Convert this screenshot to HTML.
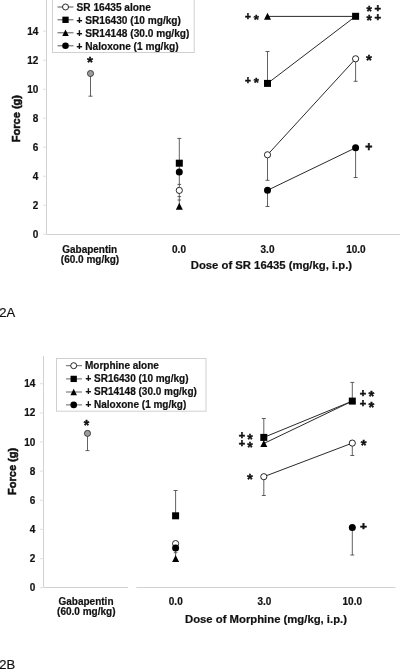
<!DOCTYPE html>
<html><head><meta charset="utf-8"><title>Figure 2</title>
<style>
html,body{margin:0;padding:0;background:#fff;}
svg{display:block;font-family:"Liberation Sans",sans-serif;fill:#111;}
</style></head><body>
<svg width="400" height="669" viewBox="0 0 400 669">
<rect width="400" height="669" fill="#fff"/>
<path d="M46.5 0V234.5H400" stroke="#d2d2d2" stroke-width="1" fill="none"/>
<path d="M43 234.2H46.5" stroke="#e0e0e0" stroke-width="1"/>
<text x="38.40" y="237.70" font-size="10" text-anchor="end" font-weight="bold" stroke="#111" stroke-width="0.2" >0</text>
<path d="M43 205.2H46.5" stroke="#e0e0e0" stroke-width="1"/>
<text x="38.40" y="208.70" font-size="10" text-anchor="end" font-weight="bold" stroke="#111" stroke-width="0.2" >2</text>
<path d="M43 176.2H46.5" stroke="#e0e0e0" stroke-width="1"/>
<text x="38.40" y="179.70" font-size="10" text-anchor="end" font-weight="bold" stroke="#111" stroke-width="0.2" >4</text>
<path d="M43 147.2H46.5" stroke="#e0e0e0" stroke-width="1"/>
<text x="38.40" y="150.70" font-size="10" text-anchor="end" font-weight="bold" stroke="#111" stroke-width="0.2" >6</text>
<path d="M43 118.2H46.5" stroke="#e0e0e0" stroke-width="1"/>
<text x="38.40" y="121.70" font-size="10" text-anchor="end" font-weight="bold" stroke="#111" stroke-width="0.2" >8</text>
<path d="M43 89.2H46.5" stroke="#e0e0e0" stroke-width="1"/>
<text x="38.40" y="92.70" font-size="10" text-anchor="end" font-weight="bold" stroke="#111" stroke-width="0.2" >10</text>
<path d="M43 60.2H46.5" stroke="#e0e0e0" stroke-width="1"/>
<text x="38.40" y="63.70" font-size="10" text-anchor="end" font-weight="bold" stroke="#111" stroke-width="0.2" >12</text>
<path d="M43 31.2H46.5" stroke="#e0e0e0" stroke-width="1"/>
<text x="38.40" y="34.70" font-size="10" text-anchor="end" font-weight="bold" stroke="#111" stroke-width="0.2" >14</text>
<text x="20.00" y="118.60" font-size="11" text-anchor="middle" font-weight="bold" stroke="#111" stroke-width="0.55" transform="rotate(-90 20 118.6)">Force (g)</text>
<rect x="52.5" y="-5" width="141.7" height="57.5" fill="#fff" stroke="#d0d0d0" stroke-width="1"/>
<line x1="57.5" y1="7" x2="73.5" y2="7" stroke="#444" stroke-width="0.9"/>
<circle cx="65.5" cy="7" r="3.0" fill="#fff" stroke="#111" stroke-width="0.9"/>
<text x="76.50" y="10.60" font-size="10.15" text-anchor="start" font-weight="bold" stroke="#111" stroke-width="0.2" >SR 16435 alone</text>
<line x1="57.5" y1="19.8" x2="73.5" y2="19.8" stroke="#444" stroke-width="0.9"/>
<rect x="62.35" y="16.65" width="6.3" height="6.3" fill="#000"/>
<text x="76.50" y="23.60" font-size="10.15" text-anchor="start" font-weight="bold" stroke="#111" stroke-width="0.2" >+ SR16430 (10 mg/kg)</text>
<line x1="57.5" y1="32.8" x2="73.5" y2="32.8" stroke="#444" stroke-width="0.9"/>
<polygon points="65.5,29.549999999999997 68.75,36.05 62.25,36.05" fill="#000"/>
<text x="76.50" y="36.60" font-size="10.15" text-anchor="start" font-weight="bold" stroke="#111" stroke-width="0.2" >+ SR14148 (30.0 mg/kg)</text>
<line x1="57.5" y1="45.8" x2="73.5" y2="45.8" stroke="#444" stroke-width="0.9"/>
<circle cx="65.5" cy="45.8" r="3.3" fill="#000"/>
<text x="76.50" y="49.60" font-size="10.15" text-anchor="start" font-weight="bold" stroke="#111" stroke-width="0.2" >+ Naloxone (1 mg/kg)</text>
<path d="M90.5 73.5V96.2M88.5 96.2H92.5" stroke="#3a3a3a" stroke-width="0.8" fill="none"/>
<circle cx="90.5" cy="73.5" r="3.05" fill="#9c9c9c" stroke="#333" stroke-width="0.9"/>
<text x="89.90" y="66.97" font-size="15.4" text-anchor="middle" font-weight="bold" stroke="#111" stroke-width="0.4" >*</text>
<path d="M179.3 163V138.4M177.3 138.4H181.3" stroke="#3a3a3a" stroke-width="0.8" fill="none"/>
<line x1="179.3" y1="163" x2="179.3" y2="205" stroke="#3a3a3a" stroke-width="0.8"/>
<path d="M177.5 184.4H181.10000000000002M177.5 196.6H181.10000000000002M177.5 200H181.10000000000002" stroke="#3a3a3a" stroke-width="0.8"/>
<rect x="175.80" y="159.70" width="7" height="7" fill="#000"/>
<circle cx="179.3" cy="172" r="3.5" fill="#000"/>
<circle cx="179.3" cy="190.4" r="3.1" fill="#fff" stroke="#111" stroke-width="0.9"/>
<polygon points="179.3,202.7 182.8,209.7 175.8,209.7" fill="#000"/>
<line x1="267.5" y1="16.4" x2="355.6" y2="16.4" stroke="#2a2a2a" stroke-width="1.0"/>
<line x1="267.5" y1="83.4" x2="355.6" y2="16.3" stroke="#2a2a2a" stroke-width="1.0"/>
<line x1="267.5" y1="154.8" x2="355.6" y2="58.8" stroke="#2a2a2a" stroke-width="1.0"/>
<line x1="267.5" y1="190.3" x2="355.6" y2="147.8" stroke="#2a2a2a" stroke-width="1.0"/>
<path d="M267.5 83V51.5M265.5 51.5H269.5" stroke="#3a3a3a" stroke-width="0.8" fill="none"/>
<path d="M267.5 155V180.3M265.5 180.3H269.5" stroke="#3a3a3a" stroke-width="0.8" fill="none"/>
<path d="M267.5 190V206.5M265.5 206.5H269.5" stroke="#3a3a3a" stroke-width="0.8" fill="none"/>
<path d="M355.6 59V81.3M353.6 81.3H357.6" stroke="#3a3a3a" stroke-width="0.8" fill="none"/>
<path d="M355.6 148V177.5M353.6 177.5H357.6" stroke="#3a3a3a" stroke-width="0.8" fill="none"/>
<polygon points="267.5,12.8 271.0,19.8 264.0,19.8" fill="#000"/>
<rect x="352.10" y="12.80" width="7" height="7" fill="#000"/>
<rect x="264.00" y="79.90" width="7" height="7" fill="#000"/>
<circle cx="267.5" cy="154.8" r="3.1" fill="#fff" stroke="#111" stroke-width="0.9"/>
<circle cx="355.6" cy="58.8" r="3.1" fill="#fff" stroke="#111" stroke-width="0.9"/>
<circle cx="267.5" cy="190.3" r="3.5" fill="#000"/>
<circle cx="355.6" cy="147.8" r="3.5" fill="#000"/>
<g transform="translate(248.00 20.05) scale(0.910 1)"><text x="0" y="0" font-size="10.9" text-anchor="middle" font-weight="bold" stroke="#111" stroke-width="0.55">+</text></g>
<text x="256.40" y="24.00" font-size="13.1" text-anchor="middle" font-weight="bold" stroke="#111" stroke-width="0.4" >*</text>
<g transform="translate(248.00 83.85) scale(0.910 1)"><text x="0" y="0" font-size="10.9" text-anchor="middle" font-weight="bold" stroke="#111" stroke-width="0.55">+</text></g>
<text x="256.40" y="87.20" font-size="13.1" text-anchor="middle" font-weight="bold" stroke="#111" stroke-width="0.4" >*</text>
<text x="369.10" y="16.39" font-size="13.8" text-anchor="middle" font-weight="bold" stroke="#111" stroke-width="0.4" >*</text>
<g transform="translate(377.80 12.25) scale(1.020 1)"><text x="0" y="0" font-size="10.9" text-anchor="middle" font-weight="bold" stroke="#111" stroke-width="0.55">+</text></g>
<text x="369.10" y="25.29" font-size="13.8" text-anchor="middle" font-weight="bold" stroke="#111" stroke-width="0.4" >*</text>
<g transform="translate(377.80 20.65) scale(1.020 1)"><text x="0" y="0" font-size="10.9" text-anchor="middle" font-weight="bold" stroke="#111" stroke-width="0.55">+</text></g>
<text x="369.00" y="64.74" font-size="15.1" text-anchor="middle" font-weight="bold" stroke="#111" stroke-width="0.4" >*</text>
<g transform="translate(368.75 150.87) scale(1.020 1)"><text x="0" y="0" font-size="11.9" text-anchor="middle" font-weight="bold" stroke="#111" stroke-width="0.55">+</text></g>
<text x="89.70" y="253.40" font-size="10" text-anchor="middle" font-weight="bold" stroke="#111" stroke-width="0.2" >Gabapentin</text>
<text x="90.00" y="262.70" font-size="10" text-anchor="middle" font-weight="bold" stroke="#111" stroke-width="0.2" >(60.0 mg/kg)</text>
<text x="179.00" y="253.40" font-size="10" text-anchor="middle" font-weight="bold" stroke="#111" stroke-width="0.2" >0.0</text>
<text x="267.50" y="253.40" font-size="10" text-anchor="middle" font-weight="bold" stroke="#111" stroke-width="0.2" >3.0</text>
<text x="355.90" y="253.40" font-size="10" text-anchor="middle" font-weight="bold" stroke="#111" stroke-width="0.2" >10.0</text>
<text x="271.40" y="268.50" font-size="11.3" text-anchor="middle" font-weight="bold" stroke="#111" stroke-width="0.2" >Dose of SR 16435 (mg/kg, i.p.)</text>
<text x="-0.80" y="316.50" font-size="13" text-anchor="start" font-weight="normal" stroke="#111" stroke-width="0.2" >2A</text>
<path d="M43.5 356V587.5H128M136.3 587.5H395.5" stroke="#d2d2d2" stroke-width="1" fill="none"/>
<path d="M40 587.7H43.5" stroke="#e0e0e0" stroke-width="1"/>
<text x="35.40" y="591.20" font-size="10" text-anchor="end" font-weight="bold" stroke="#111" stroke-width="0.2" >0</text>
<path d="M40 558.6H43.5" stroke="#e0e0e0" stroke-width="1"/>
<text x="35.40" y="562.06" font-size="10" text-anchor="end" font-weight="bold" stroke="#111" stroke-width="0.2" >2</text>
<path d="M40 529.4H43.5" stroke="#e0e0e0" stroke-width="1"/>
<text x="35.40" y="532.92" font-size="10" text-anchor="end" font-weight="bold" stroke="#111" stroke-width="0.2" >4</text>
<path d="M40 500.3H43.5" stroke="#e0e0e0" stroke-width="1"/>
<text x="35.40" y="503.78" font-size="10" text-anchor="end" font-weight="bold" stroke="#111" stroke-width="0.2" >6</text>
<path d="M40 471.1H43.5" stroke="#e0e0e0" stroke-width="1"/>
<text x="35.40" y="474.64" font-size="10" text-anchor="end" font-weight="bold" stroke="#111" stroke-width="0.2" >8</text>
<path d="M40 442.0H43.5" stroke="#e0e0e0" stroke-width="1"/>
<text x="35.40" y="445.50" font-size="10" text-anchor="end" font-weight="bold" stroke="#111" stroke-width="0.2" >10</text>
<path d="M40 412.9H43.5" stroke="#e0e0e0" stroke-width="1"/>
<text x="35.40" y="416.36" font-size="10" text-anchor="end" font-weight="bold" stroke="#111" stroke-width="0.2" >12</text>
<path d="M40 383.7H43.5" stroke="#e0e0e0" stroke-width="1"/>
<text x="35.40" y="387.22" font-size="10" text-anchor="end" font-weight="bold" stroke="#111" stroke-width="0.2" >14</text>
<text x="16.30" y="471.40" font-size="11" text-anchor="middle" font-weight="bold" stroke="#111" stroke-width="0.55" transform="rotate(-90 16.3 471.4)">Force (g)</text>
<rect x="56.5" y="358.5" width="149.5" height="52.7" fill="#fff" stroke="#d0d0d0" stroke-width="1"/>
<line x1="66" y1="365.7" x2="82" y2="365.7" stroke="#555" stroke-width="0.9"/>
<circle cx="73.7" cy="365.7" r="3.0" fill="#fff" stroke="#111" stroke-width="0.9"/>
<text x="85.00" y="368.80" font-size="10" text-anchor="start" font-weight="bold" stroke="#111" stroke-width="0.2" >Morphine alone</text>
<line x1="66" y1="378.9" x2="82" y2="378.9" stroke="#555" stroke-width="0.9"/>
<rect x="70.55" y="375.75" width="6.3" height="6.3" fill="#000"/>
<text x="85.40" y="382.00" font-size="10" text-anchor="start" font-weight="bold" stroke="#111" stroke-width="0.2" >+ SR16430 (10 mg/kg)</text>
<line x1="66" y1="392" x2="82" y2="392" stroke="#555" stroke-width="0.9"/>
<polygon points="73.7,388.75 76.95,395.25 70.45,395.25" fill="#000"/>
<text x="85.40" y="395.00" font-size="10" text-anchor="start" font-weight="bold" stroke="#111" stroke-width="0.2" >+ SR14148 (30.0 mg/kg)</text>
<line x1="66" y1="404.9" x2="82" y2="404.9" stroke="#555" stroke-width="0.9"/>
<circle cx="73.7" cy="404.9" r="3.3" fill="#000"/>
<text x="85.40" y="408.00" font-size="10" text-anchor="start" font-weight="bold" stroke="#111" stroke-width="0.2" >+ Naloxone (1 mg/kg)</text>
<path d="M87.5 433.4V450.6M85.5 450.6H89.5" stroke="#3a3a3a" stroke-width="0.8" fill="none"/>
<circle cx="87.5" cy="433.4" r="3.05" fill="#9c9c9c" stroke="#333" stroke-width="0.9"/>
<text x="86.60" y="430.22" font-size="14.1" text-anchor="middle" font-weight="bold" stroke="#111" stroke-width="0.4" >*</text>
<path d="M175.6 515V490.5M173.6 490.5H177.6" stroke="#3a3a3a" stroke-width="0.8" fill="none"/>
<line x1="175.6" y1="548" x2="175.6" y2="556" stroke="#3a3a3a" stroke-width="0.8"/>
<path d="M173.79999999999998 552.7H177.4" stroke="#3a3a3a" stroke-width="0.8"/>
<rect x="172.10" y="512.30" width="7" height="7" fill="#000"/>
<circle cx="175.6" cy="543.6" r="3.1" fill="#fff" stroke="#111" stroke-width="0.9"/>
<circle cx="175.6" cy="548" r="3.5" fill="#000"/>
<polygon points="175.6,555.1 179.1,562.1 172.1,562.1" fill="#000"/>
<line x1="263.8" y1="437.4" x2="352.3" y2="401.1" stroke="#2a2a2a" stroke-width="1.0"/>
<line x1="263.8" y1="443.5" x2="352.3" y2="401.1" stroke="#2a2a2a" stroke-width="1.0"/>
<line x1="263.8" y1="476.7" x2="352.3" y2="443.1" stroke="#2a2a2a" stroke-width="1.0"/>
<path d="M263.8 436V418.5M261.8 418.5H265.8" stroke="#3a3a3a" stroke-width="0.8" fill="none"/>
<path d="M263.8 477V495.5M261.8 495.5H265.8" stroke="#3a3a3a" stroke-width="0.8" fill="none"/>
<path d="M352.3 401V382.4M350.3 382.4H354.3" stroke="#3a3a3a" stroke-width="0.8" fill="none"/>
<path d="M352.3 443V455.5M350.3 455.5H354.3" stroke="#3a3a3a" stroke-width="0.8" fill="none"/>
<path d="M352.3 527V555M350.3 555H354.3" stroke="#3a3a3a" stroke-width="0.8" fill="none"/>
<polygon points="263.8,440.0 267.3,447.0 260.3,447.0" fill="#000"/>
<rect x="260.30" y="433.90" width="7" height="7" fill="#000"/>
<rect x="348.80" y="397.60" width="7" height="7" fill="#000"/>
<circle cx="263.8" cy="476.7" r="3.1" fill="#fff" stroke="#111" stroke-width="0.9"/>
<circle cx="352.3" cy="443.1" r="3.1" fill="#fff" stroke="#111" stroke-width="0.9"/>
<circle cx="352.3" cy="527.6" r="3.5" fill="#000"/>
<g transform="translate(242.00 439.08) scale(1.020 1)"><text x="0" y="0" font-size="10.7" text-anchor="middle" font-weight="bold" stroke="#111" stroke-width="0.55">+</text></g>
<text x="250.10" y="443.72" font-size="14.1" text-anchor="middle" font-weight="bold" stroke="#111" stroke-width="0.4" >*</text>
<g transform="translate(242.00 447.28) scale(1.020 1)"><text x="0" y="0" font-size="10.7" text-anchor="middle" font-weight="bold" stroke="#111" stroke-width="0.55">+</text></g>
<text x="250.10" y="452.02" font-size="14.1" text-anchor="middle" font-weight="bold" stroke="#111" stroke-width="0.4" >*</text>
<g transform="translate(363.00 396.78) scale(1.020 1)"><text x="0" y="0" font-size="10.7" text-anchor="middle" font-weight="bold" stroke="#111" stroke-width="0.55">+</text></g>
<text x="371.40" y="401.11" font-size="14.9" text-anchor="middle" font-weight="bold" stroke="#111" stroke-width="0.4" >*</text>
<g transform="translate(363.00 406.98) scale(1.020 1)"><text x="0" y="0" font-size="10.7" text-anchor="middle" font-weight="bold" stroke="#111" stroke-width="0.55">+</text></g>
<text x="371.40" y="412.11" font-size="14.9" text-anchor="middle" font-weight="bold" stroke="#111" stroke-width="0.4" >*</text>
<text x="250.00" y="483.71" font-size="14.9" text-anchor="middle" font-weight="bold" stroke="#111" stroke-width="0.4" >*</text>
<text x="363.70" y="449.81" font-size="14.9" text-anchor="middle" font-weight="bold" stroke="#111" stroke-width="0.4" >*</text>
<g transform="translate(363.40 529.81) scale(1.020 1)"><text x="0" y="0" font-size="11.7" text-anchor="middle" font-weight="bold" stroke="#111" stroke-width="0.55">+</text></g>
<text x="86.00" y="605.40" font-size="10" text-anchor="middle" font-weight="bold" stroke="#111" stroke-width="0.2" >Gabapentin</text>
<text x="86.30" y="614.80" font-size="10" text-anchor="middle" font-weight="bold" stroke="#111" stroke-width="0.2" >(60.0 mg/kg)</text>
<text x="175.75" y="605.45" font-size="10" text-anchor="middle" font-weight="bold" stroke="#111" stroke-width="0.2" >0.0</text>
<text x="264.35" y="605.45" font-size="10" text-anchor="middle" font-weight="bold" stroke="#111" stroke-width="0.2" >3.0</text>
<text x="352.30" y="605.45" font-size="10" text-anchor="middle" font-weight="bold" stroke="#111" stroke-width="0.2" >10.0</text>
<text x="266.00" y="622.70" font-size="11.3" text-anchor="middle" font-weight="bold" stroke="#111" stroke-width="0.2" >Dose of Morphine (mg/kg, i.p.)</text>
<text x="-0.80" y="668.80" font-size="13" text-anchor="start" font-weight="normal" stroke="#111" stroke-width="0.2" >2B</text>
</svg>
</body></html>
